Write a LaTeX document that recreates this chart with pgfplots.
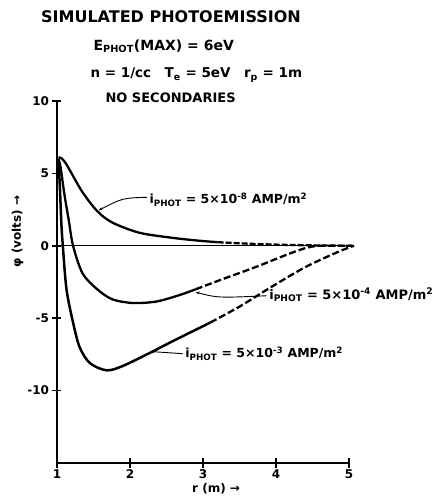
\documentclass[border=0pt]{standalone}
\usepackage{fontspec}
\setmainfont{DejaVu Sans}
\usepackage{pgfplots}
\pgfplotsset{compat=1.18}
\usetikzlibrary{arrows.meta}
\begin{document}
\begin{tikzpicture}[x=1pt,y=1pt,font=\bfseries]
\useasboundingbox (0,0) rectangle (441,496);
% heading lines
\node[font=\bfseries\fontsize{16}{18}\selectfont] at (171,479) {SIMULATED PHOTOEMISSION};
\node[font=\bfseries\fontsize{14}{16}\selectfont, anchor=west] at (90,450) {E\textsubscript{PHOT}(MAX) = 6eV};
\node[font=\bfseries\fontsize{13.5}{15}\selectfont, anchor=west] at (87,421) {n = 1/cc\quad T\textsubscript{e} = 5eV\quad r\textsubscript{p} = 1m};
\node[font=\bfseries\fontsize{13}{14}\selectfont, anchor=west] at (102,398) {NO SECONDARIES};
\begin{axis}[
  at={(57pt,33pt)}, anchor=south west, scale only axis,
  width=292pt, height=362pt,
  xmin=1, xmax=5, ymin=-15, ymax=10,
  axis x line*=bottom, axis y line*=left,
  axis line style={line width=1.5pt},
  xtick={1,2,3,4,5}, xticklabels={1,2,3,4,5},
  ytick={-10,-5,0,5,10}, yticklabels={-10,-5,0,5,10},
  tick align=center, major tick length=9pt,
  tick style={line width=1.5pt, black},
  ticklabel style={font=\bfseries\fontsize{12}{12}\selectfont},
  xticklabel style={yshift=1pt},
  xlabel={r (m) →}, ylabel={φ (volts) →},
  label style={font=\bfseries\fontsize{12}{12}\selectfont},
  xlabel style={at={(axis description cs:0.545,0)}, anchor=north, yshift=-17pt},
  ylabel style={at={(axis description cs:0,0.64)}, anchor=south, yshift=30pt},
  clip=false,
]
% zero line
\addplot[line width=1.3pt] coordinates {(1,0) (5.05,0)};
% i = 5e-8
\addplot[line width=2.3pt, smooth] coordinates {
 (1.02,6.1) (1.06,6.05) (1.12,5.7) (1.2,5.0) (1.35,3.7) (1.55,2.4)
 (1.76,1.6) (2.13,0.9) (2.58,0.55) (2.95,0.35) (3.2,0.25)};
\addplot[line width=2.3pt, dash pattern=on 6pt off 2pt, smooth] coordinates {
 (3.2,0.25) (3.6,0.15) (4.0,0.08) (4.5,0.03) (5.05,0)};
% i = 5e-4
\addplot[line width=2.3pt, smooth] coordinates {
 (1.02,6.0) (1.05,5.4) (1.1,3.6) (1.16,1.8) (1.22,0) (1.35,-1.9) (1.55,-3.0)
 (1.76,-3.7) (2.04,-3.95) (2.36,-3.85) (2.68,-3.4) (2.9,-3.0)};
\addplot[line width=2.3pt, dash pattern=on 7pt off 3pt, smooth] coordinates {
 (2.9,-3.0) (3.27,-2.3) (3.73,-1.45) (4.18,-0.55) (4.41,-0.15) (4.6,0) (5.05,0)};
% i = 5e-3
\addplot[line width=2.5pt, smooth] coordinates {
 (1.02,6.0) (1.04,4.0) (1.06,1.5) (1.08,0) (1.13,-3.0) (1.22,-5.3) (1.31,-7.0)
 (1.45,-8.1) (1.68,-8.6) (1.9,-8.3) (2.27,-7.4) (2.58,-6.6) (2.9,-5.8) (3.1,-5.3)};
\addplot[line width=2.3pt, dash pattern=on 7pt off 3pt, smooth] coordinates {
 (3.1,-5.3) (3.5,-4.2) (3.95,-2.8) (4.41,-1.45) (4.86,-0.4) (5.07,0)};
% annotations
\draw[line width=0.9pt, -{Stealth[length=4pt]}] (axis cs:2.23,3.35) .. controls (axis cs:1.9,3.3) .. (axis cs:1.57,2.45);
\node[anchor=west, font=\bfseries\fontsize{12.5}{13}\selectfont] at (axis cs:2.22,3.2) {i\textsubscript{PHOT} = 5×10\textsuperscript{-8} AMP/m\textsuperscript{2}};
\draw[line width=0.9pt, {Stealth[length=4pt]}-] (axis cs:2.9,-3.2) .. controls (axis cs:3.2,-3.6) .. (axis cs:3.87,-3.45);
\node[anchor=west, font=\bfseries\fontsize{13}{14}\selectfont] at (axis cs:3.86,-3.4) {i\textsubscript{PHOT} = 5×10\textsuperscript{-4} AMP/m\textsuperscript{2}};
\draw[line width=0.9pt, -{Stealth[length=4pt]}] (axis cs:2.72,-7.45) -- (axis cs:2.28,-7.3);
\node[anchor=west, font=\bfseries\fontsize{12.5}{13}\selectfont] at (axis cs:2.71,-7.45) {i\textsubscript{PHOT} = 5×10\textsuperscript{-3} AMP/m\textsuperscript{2}};
\end{axis}
\end{tikzpicture}
\end{document}
